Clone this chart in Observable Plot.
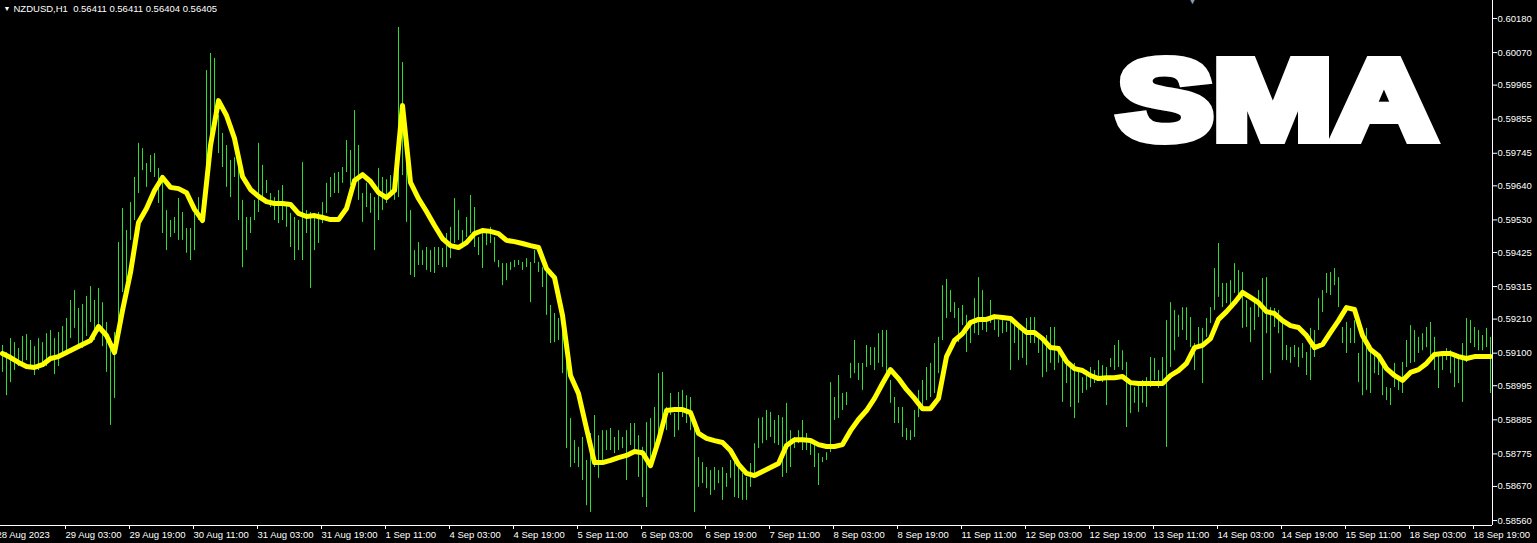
<!DOCTYPE html>
<html>
<head>
<meta charset="utf-8">
<script src="https://cdn.jsdelivr.net/npm/d3@7"></script>
<script src="https://cdn.jsdelivr.net/npm/@observablehq/plot@0.6"></script>
<style>
html, body { margin: 0; padding: 0; background: #000; overflow: hidden; }
</style>
</head>
<body>
<div id="chart"></div>
<script>
const symbol = "NZDUSD,H1";
const quote = [0.56411, 0.56411, 0.56404, 0.56405];
const title = "SMA";

// Hourly bar highs, in points (1 point = 0.00001), first bar 28 Aug 2023 12:00
const high = [
59125,59102,59147,59134,59115,59154,59160,59141,59121,59147,
59134,59163,59173,59147,59167,59186,59212,59270,59302,59244,
59257,59283,59315,59270,59309,59263,59199,59147,59167,59457,
59567,59496,59586,59667,59777,59760,59712,59738,59744,59696,
59673,59560,59528,59538,59599,59554,59502,59502,59570,59602,
59593,60012,60067,60051,59867,59809,59770,59722,59731,59699,
59593,59538,59538,59593,59777,59706,59657,59615,59602,59625,
59641,59586,59551,59538,59528,59715,59560,59554,59538,59554,
59586,59648,59667,59680,59683,59699,59786,59754,59883,59770,
59615,59648,59615,59602,59696,59667,59660,59673,59648,60151,
60038,59796,59560,59431,59457,59431,59441,59431,59441,59441,
59438,59486,59506,59599,59560,59496,59538,59609,59570,59473,
59486,59496,59506,59473,59399,59389,59389,59393,59399,59399,
59393,59405,59393,59431,59393,59376,59360,59254,59228,59212,
59205,59108,58889,58818,58796,58828,58754,58841,58899,58834,
58850,58850,58857,58828,58850,58828,58850,58873,58873,58834,
58796,58876,58889,58925,59034,59038,58925,58970,58905,58973,
58980,58963,58957,58860,58763,58747,58731,58721,58731,58721,
58731,58712,58754,58747,58731,58712,58699,58744,58808,58889,
58892,58915,58909,58883,58899,58892,58938,58850,58828,58850,
58883,58841,58818,58802,58776,58763,58779,59005,58957,59028,
58970,58973,59067,59141,59067,59067,59125,59118,59118,59163,
59173,59173,59012,58957,58925,58925,58857,58850,58915,58980,
59012,59054,59067,59131,59151,59318,59338,59302,59263,59244,
59254,59222,59199,59276,59344,59302,59212,59270,59215,59205,
59212,59199,59212,59205,59189,59180,59212,59215,59215,59163,
59141,59157,59183,59183,59115,59099,59067,59060,59067,59038,
59021,59044,59054,59044,59076,59060,59054,59083,59125,59141,
59108,59070,59012,58989,58996,59012,59021,59086,59083,59044,
59086,59205,59263,59238,59222,59247,59247,59215,59131,59183,
59180,59212,59247,59373,59454,59325,59325,59334,59389,59367,
59360,59270,59247,59263,59302,59341,59344,59247,59244,59238,
59205,59125,59118,59125,59118,59131,59102,59180,59173,59276,
59302,59357,59360,59373,59344,59183,59199,59180,59205,59099,
59151,59180,59115,59099,59086,59076,58989,58986,59067,59012,
59070,59141,59189,59173,59151,59163,59183,59199,59151,59099,
59099,59115,59108,59086,59092,59131,59212,59205,59183,59173,
59157,59180,59151
];

// Hourly bar lows, in points
const low = [
59038,58963,59005,59044,59057,59070,59076,59050,59028,59044,
59063,59057,59076,59031,59057,59089,59108,59147,59180,59128,
59115,59154,59199,59141,59167,59121,59038,58867,58954,59173,
59296,59334,59464,59528,59615,59689,59635,59683,59667,59583,
59486,59431,59473,59486,59464,59464,59422,59399,59431,59528,
59538,59689,59744,59873,59744,59699,59635,59602,59667,59528,
59376,59431,59486,59528,59554,59593,59615,59570,59528,59518,
59528,59506,59441,59399,59431,59399,59486,59309,59431,59454,
59518,59551,59602,59615,59615,59648,59683,59641,59635,59593,
59522,59570,59551,59431,59528,59560,59583,59602,59593,59602,
59673,59522,59351,59344,59383,59383,59367,59360,59357,59383,
59376,59376,59405,59454,59464,59454,59473,59486,59441,59415,
59373,59447,59454,59393,59376,59318,59334,59367,59376,59383,
59367,59376,59263,59389,59360,59312,59222,59131,59134,59141,
59034,58792,58731,58744,58731,58689,58608,58586,58731,58696,
58754,58786,58786,58776,58786,58792,58689,58802,58786,58699,
58634,58602,58754,58776,58828,58892,58850,58899,58828,58850,
58892,58873,58850,58586,58667,58679,58663,58641,58657,58679,
58625,58667,58696,58634,58631,58625,58625,58667,58696,58792,
58808,58818,58828,58808,58802,58699,58712,58731,58792,58808,
58786,58786,58770,58731,58673,58747,58754,58779,58883,58889,
58915,58931,59018,59034,59012,58980,59054,59060,59044,59067,
59054,59012,58938,58873,58873,58828,58818,58818,58828,58892,
58915,58947,58957,58970,59034,59141,59212,59231,59212,59134,
59189,59102,59131,59163,59157,59173,59167,59196,59173,59151,
59163,59167,59044,59131,59076,59083,59060,59131,59131,59099,
59021,59038,59067,59044,59067,58941,59002,58925,58889,58938,
58970,58980,58989,59002,59012,59005,58931,59054,59044,59054,
59044,58860,58905,58938,58909,58938,58925,58989,59012,58986,
59012,58796,59054,59108,59151,59173,59141,59118,59044,59118,
59002,59151,59196,59238,59280,59247,59260,59247,59293,59270,
59180,59183,59134,59173,59215,59012,59163,59034,59183,59163,
59076,59076,59067,59086,59054,59083,59028,59012,59086,59173,
59231,59293,59286,59318,59247,59131,59099,59131,59131,59005,
58963,58980,58970,59034,59028,58963,58947,58931,58989,58980,
58970,59054,59067,59070,59099,59108,59118,59086,59044,58986,
59044,59076,59034,58989,59002,58941,59070,59131,59118,59108,
59108,59118,58970
];

// SMA value at every second bar, in points
const sma = [
59099,59086,59070,59057,59054,59063,59083,59089,59102,59115,
59128,59141,59186,59157,59102,59238,59360,59522,59567,59625,
59667,59635,59631,59618,59564,59528,59770,59915,59867,59793,
59670,59628,59606,59589,59583,59583,59580,59551,59541,59544,
59538,59531,59531,59567,59657,59676,59654,59618,59602,59625,
59899,59651,59599,59557,59512,59470,59447,59441,59457,59486,
59496,59493,59486,59464,59460,59454,59447,59441,59373,59344,
59222,59028,58970,58857,58747,58747,58754,58763,58770,58783,
58779,58737,58818,58915,58918,58918,58908,58841,58825,58818,
58812,58786,58741,58712,58705,58718,58731,58744,58802,58821,
58821,58818,58805,58799,58799,58805,58850,58886,58915,58954,
59002,59047,59018,58983,58954,58921,58921,58954,59089,59141,
59163,59199,59209,59209,59218,59215,59212,59189,59167,59167,
59147,59118,59115,59073,59050,59044,59028,59018,59021,59021,
59025,59005,59002,59002,59002,59002,59028,59044,59067,59118,
59125,59147,59209,59234,59263,59296,59280,59263,59234,59228,
59205,59189,59183,59157,59118,59128,59167,59205,59247,59241,
59157,59112,59092,59050,59028,59012,59038,59047,59067,59096,
59099,59099,59089,59083,59089,59089,59089
];

const yTicks = [0.60180, 0.60070, 0.59965, 0.59855, 0.59745, 0.59640, 0.59530, 0.59425,
                0.59315, 0.59210, 0.59100, 0.58995, 0.58885, 0.58775, 0.58670, 0.58560];
const yDomain = [0.58544, 0.60238];

const firstLabel = "28 Aug 2023";
const xTickBars = [15, 31, 47, 63, 79, 95, 111, 127, 143, 159, 175, 191, 207, 223, 239, 255, 271, 287, 303, 319, 335, 351, 367];
const xTickLabels = ["29 Aug 03:00", "29 Aug 19:00", "30 Aug 11:00", "31 Aug 03:00", "31 Aug 19:00", "1 Sep 11:00",
  "4 Sep 03:00", "4 Sep 19:00", "5 Sep 11:00", "6 Sep 03:00", "6 Sep 19:00", "7 Sep 11:00", "8 Sep 03:00",
  "8 Sep 19:00", "11 Sep 11:00", "12 Sep 03:00", "12 Sep 19:00", "13 Sep 11:00", "14 Sep 03:00",
  "14 Sep 19:00", "15 Sep 11:00", "18 Sep 03:00", "18 Sep 19:00"];

const bars = high.map((h, i) => ({i, high: h / 1e5, low: low[i] / 1e5}));
const smaLine = sma.map((v, k) => ({i: k * 2, v: v / 1e5}));
const labelMap = new Map(xTickBars.map((b, k) => [b, xTickLabels[k]]));
const header = symbol + "\u00a0\u00a0" + quote.map(q => q.toFixed(5)).join(" ");
const FONT = "'Liberation Sans', Arial, sans-serif";

const plot = Plot.plot({
  width: 1537,
  height: 543,
  marginLeft: 0,
  marginRight: 45,
  marginTop: 0,
  marginBottom: 18,
  style: {background: "#000", color: "#fff", fontFamily: FONT, fontSize: "9.5px"},
  x: {domain: [-0.5, high.length - 0.5], axis: null, label: null},
  y: {domain: yDomain, axis: null, label: null},
  marks: [
    Plot.ruleX(bars, {x: "i", y1: "low", y2: "high", stroke: "#2fdc2f", strokeWidth: 1}),
    Plot.line(smaLine, {x: "i", y: "v", stroke: "#ffff00", strokeWidth: 5, strokeLinejoin: "round", strokeLinecap: "round"}),
    Plot.ruleX([high.length - 0.5], {stroke: "#fff"}),
    Plot.ruleY([yDomain[0]], {stroke: "#fff"}),
    Plot.axisY(yTicks, {anchor: "right", label: null, tickSize: 4, tickPadding: 1, tickFormat: d => d.toFixed(5)}),
    Plot.axisX(xTickBars, {anchor: "bottom", label: null, tickSize: 4, tickPadding: 2, tickFormat: d => labelMap.get(d), textAnchor: "start", dx: 3}),
    Plot.text([firstLabel], {frameAnchor: "bottom-left", dx: -4, dy: 6, lineAnchor: "top", textAnchor: "start", fill: "#fff"}),
    Plot.text(["\u25BC"], {frameAnchor: "top-left", dx: 3, dy: 8, lineAnchor: "middle", textAnchor: "start", fontSize: 7, fill: "#fff"}),
    Plot.text([header], {frameAnchor: "top-left", dx: 13, dy: 8.5, lineAnchor: "middle", textAnchor: "start", fill: "#fff"}),
    Plot.text(["\u25BC"], {frameAnchor: "top-left", dx: 1192, dy: -4, lineAnchor: "top", textAnchor: "middle", fontSize: 11, fill: "#8b9bb4"}),
    Plot.text([title], {frameAnchor: "top-left", dx: 1117, dy: 138, lineAnchor: "bottom", textAnchor: "start",
      fontSize: 113, fontWeight: "bold", fontFamily: FONT, fill: "#fff", stroke: "#fff", strokeWidth: 10,
      strokeLinejoin: "miter", strokeMiterlimit: 2})
  ]
});

d3.select(plot).selectAll("text")
  .filter(function () { return this.textContent === title; })
  .attr("textLength", 318)
  .attr("lengthAdjust", "spacingAndGlyphs")
  .attr("stroke-linejoin", "miter")
  .attr("stroke-miterlimit", 2);

document.getElementById("chart").append(plot);
</script>
</body>
</html>
